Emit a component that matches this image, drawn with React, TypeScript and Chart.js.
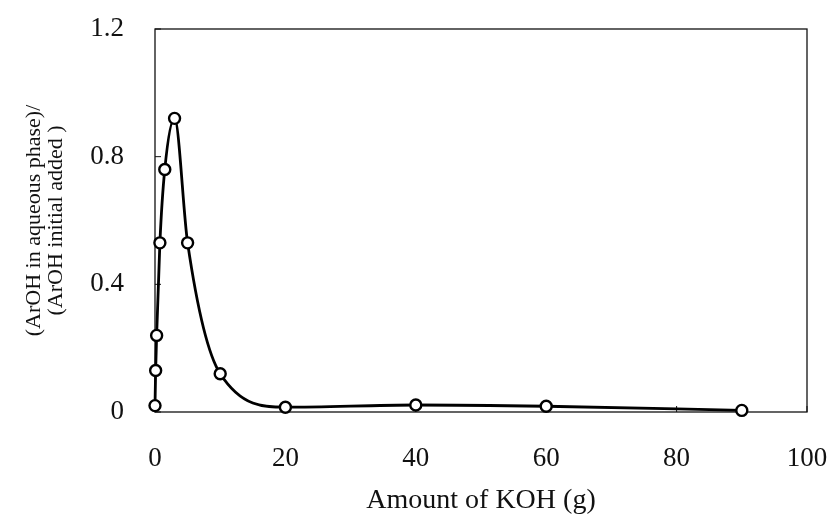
import React, { useEffect, useRef } from "react";
import { Chart, registerables } from "chart.js";

Chart.register(...registerables);

const koh = [0, 0.1, 0.25, 0.75, 1.5, 3, 5, 10, 20, 40, 60, 90];
const ratio = [0.02, 0.13, 0.24, 0.53, 0.76, 0.92, 0.53, 0.12, 0.015, 0.022, 0.018, 0.005];
const xTicks = [0, 20, 40, 60, 80, 100];
const yTicks = [0, 0.4, 0.8, 1.2];
const xTitle = "Amount of KOH (g)";
const yTitle = ["(ArOH in aqueous phase)/", "(ArOH initial added )"];

const framePlugin = {
  id: "frame",
  beforeDatasetsDraw(chart: any) {
    const { ctx, chartArea, scales } = chart;
    const { left, top, right, bottom } = chartArea;
    ctx.save();
    ctx.strokeStyle = "#111";
    ctx.lineWidth = 1.3;
    ctx.strokeRect(left, top, right - left, bottom - top);
    ctx.lineWidth = 1;
    ctx.beginPath();
    scales.x.ticks.forEach((t: any) => {
      const px = scales.x.getPixelForValue(t.value);
      ctx.moveTo(px, bottom);
      ctx.lineTo(px, bottom - 6);
    });
    scales.y.ticks.forEach((t: any) => {
      const py = scales.y.getPixelForValue(t.value);
      ctx.moveTo(left, py);
      ctx.lineTo(left + 6, py);
    });
    ctx.stroke();
    ctx.restore();
  },
};

export default function App() {
  const ref = useRef<HTMLCanvasElement | null>(null);
  useEffect(() => {
    if (!ref.current) return;
    const chart = new Chart(ref.current, {
      type: "line",
      data: {
        datasets: [
          {
            data: koh.map((x, i) => ({ x, y: ratio[i] })),
            borderColor: "#000",
            borderWidth: 2.8,
            pointRadius: 5.5,
            pointBorderWidth: 2.4,
            pointBackgroundColor: "#fff",
            pointBorderColor: "#000",
            cubicInterpolationMode: "monotone",
            clip: false as any,
          },
        ],
      },
      plugins: [framePlugin],
      options: {
        responsive: false,
        animation: false,
        devicePixelRatio: 1,
        layout: { padding: { left: 0, right: 21, top: 29, bottom: 0 } },
        plugins: { legend: { display: false }, tooltip: { enabled: false } },
        scales: {
          x: {
            type: "linear",
            min: 0,
            max: 100,
            afterBuildTicks: (s: any) => {
              s.ticks = xTicks.map((v) => ({ value: v }));
            },
            grid: { display: false },
            border: { display: false },
            ticks: {
              color: "#111",
              padding: 23,
              maxRotation: 0,
              font: { family: "Liberation Serif", size: 27 },
            },
            title: {
              display: true,
              text: xTitle,
              color: "#111",
              font: { family: "Liberation Serif", size: 28, lineHeight: 1.2 },
              padding: { top: 0, bottom: 6 },
            },
            afterFit: (s: any) => {
              s.height = 111;
              s.paddingLeft = 0;
              s.paddingRight = 0;
            },
          },
          y: {
            type: "linear",
            min: 0,
            max: 1.2,
            afterBuildTicks: (s: any) => {
              s.ticks = yTicks.map((v) => ({ value: v }));
            },
            grid: { display: false },
            border: { display: false },
            ticks: {
              color: "#111",
              padding: 23,
              font: { family: "Liberation Serif", size: 27 },
            },
            title: {
              display: true,
              text: yTitle,
              color: "#111",
              font: { family: "Liberation Serif", size: 22, lineHeight: 1.0 },
              padding: { top: 23, bottom: 0 },
            },
            afterFit: (s: any) => {
              s.width = 155;
              s.paddingTop = 0;
              s.paddingBottom = 0;
            },
          },
        },
      },
    });
    return () => chart.destroy();
  }, []);
  return (
    <div style={{ position: "fixed", left: 0, top: 0, width: 828, height: 523, background: "#fff" }}>
      <canvas ref={ref} width={828} height={523} />
    </div>
  );
}
